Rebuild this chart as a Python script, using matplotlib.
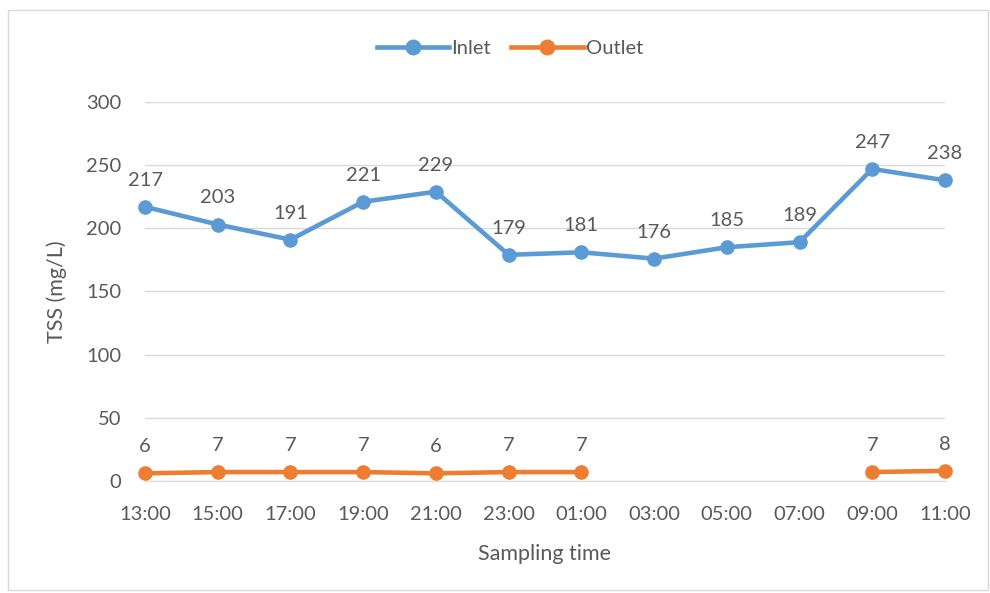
import matplotlib.pyplot as plt
import numpy as np

# chart data
times = ['13:00', '15:00', '17:00', '19:00', '21:00', '23:00',
         '01:00', '03:00', '05:00', '07:00', '09:00', '11:00']
inlet = [217, 203, 191, 221, 229, 179, 181, 176, 185, 189, 247, 238]
outlet = [6, 7, 7, 7, 6, 7, 7, np.nan, np.nan, np.nan, 7, 8]
y_ticks = [0, 50, 100, 150, 200, 250, 300]

plt.rcParams['font.family'] = ['Lato', 'DejaVu Sans']
txt = '#595959'
blue = '#5B9BD5'
orange = '#ED7D31'
fs = 14.5

fig = plt.figure(figsize=(9.9, 5.93), dpi=100)
ax = fig.add_axes([0.1465, 0.189, 0.808, 0.639])

x = np.arange(len(times))
ax.plot(x, inlet, '-o', color=blue, lw=3.3, ms=9.5, label='Inlet', clip_on=False, zorder=3)
ax.plot(x, outlet, '-o', color=orange, lw=3.3, ms=9.5, label='Outlet', clip_on=False, zorder=3)

# data labels above each point
for xi, v in zip(x, inlet):
    ax.annotate(str(v), (xi, v), xytext=(0, 13), textcoords='offset points',
                ha='center', va='bottom', fontsize=fs, color=txt)
for xi, v in zip(x, outlet):
    if not np.isnan(v):
        ax.annotate(str(int(v)), (xi, v), xytext=(0, 13), textcoords='offset points',
                    ha='center', va='bottom', fontsize=fs, color=txt)

ax.set_xlim(0, len(times) - 1)
ax.set_ylim(0, 300)
ax.set_xticks(x)
ax.set_xticklabels(times)
ax.set_yticks(y_ticks)
ax.tick_params(length=0, labelsize=fs, colors=txt)
ax.tick_params(axis='x', pad=18)
ax.tick_params(axis='y', pad=17)
ax.grid(axis='y', color='#D9D9D9', lw=1)
ax.set_axisbelow(True)
for s in ['top', 'right', 'left']:
    ax.spines[s].set_visible(False)
ax.spines['bottom'].set_color('#D9D9D9')

ax.set_xlabel('Sampling time', fontsize=15.5, color=txt, labelpad=15)
ax.set_ylabel('TSS (mg/L)', fontsize=15.5, color=txt, labelpad=14)

fig.legend(loc='center', bbox_to_anchor=(0.515, 0.918), ncol=2, frameon=False,
           fontsize=fs, labelcolor=txt, handlelength=3.6, handletextpad=0.1,
           columnspacing=1.0, markerscale=1.1)

# light outer border like the Excel chart area
fig.patches.append(plt.Rectangle((0.008, 0.005), 0.99, 0.978, transform=fig.transFigure,
                                 fill=False, ec='#D9D9D9', lw=1))

fig.savefig('out.png', dpi=100)
